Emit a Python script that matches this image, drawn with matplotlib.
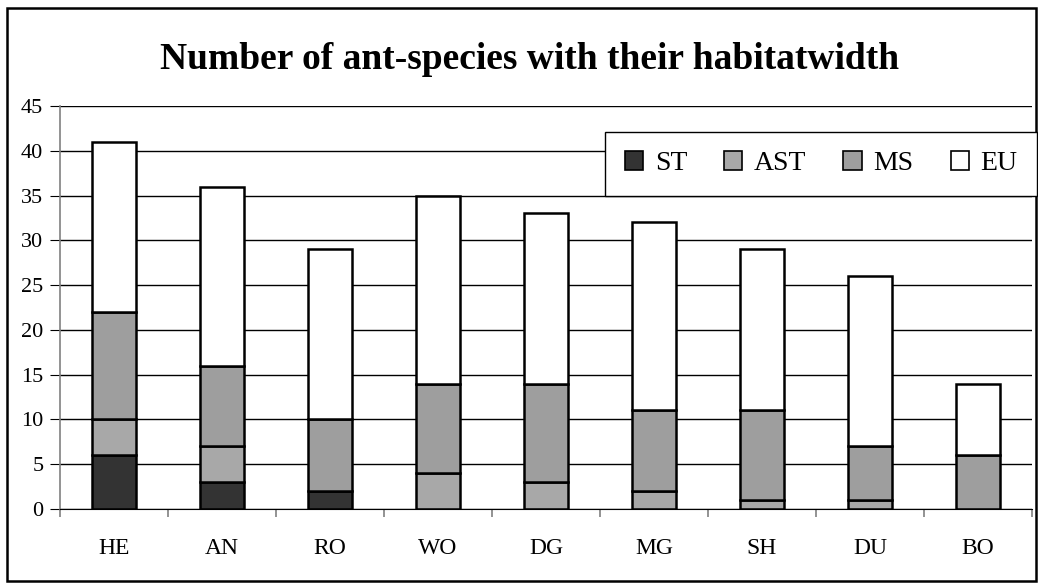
import numpy as np
import matplotlib.pyplot as plt
from matplotlib.patches import Rectangle

# data
sites = ['HE', 'AN', 'RO', 'WO', 'DG', 'MG', 'SH', 'DU', 'BO']
st  = [6, 3, 2, 0, 0, 0, 0, 0, 0]
ast = [4, 4, 0, 4, 3, 2, 1, 1, 0]
ms  = [12, 9, 8, 10, 11, 9, 10, 6, 6]
eu  = [19, 20, 19, 21, 19, 21, 18, 19, 8]

plt.rcParams['font.family'] = ['Liberation Serif', 'DejaVu Serif']

W, H = 1038, 583
fig = plt.figure(figsize=(W / 100, H / 100), dpi=100)
# axes box in pixels: x 60..1032, y 106..509
ax = fig.add_axes([60 / W, 1 - 509 / H, 972 / W, 403 / H])

x = np.arange(len(sites))
w = 0.41
bottom = np.zeros(len(sites))
series = [(st, '#333333', 'ST'), (ast, '#a8a8a8', 'AST'),
          (ms, '#9e9e9e', 'MS'), (eu, 'white', 'EU')]
for vals, col, lab in series:
    ax.bar(x, vals, w, bottom=bottom, color=col, edgecolor='black',
           linewidth=1.8, label=lab, zorder=3)
    bottom += np.array(vals)

ax.set_xlim(-0.5, len(sites) - 0.5)
ax.set_ylim(0, 45)
ax.set_yticks(range(0, 50, 5))
ax.yaxis.grid(True, color='black', linewidth=1, zorder=0)
ax.set_xticks(x)
ax.set_xticklabels(sites)
ax.set_xticks(np.arange(-0.5, len(sites)), minor=True)
ax.tick_params(axis='x', which='major', length=0, pad=21, labelsize=17)
ax.tick_params(axis='x', which='minor', length=6, width=1.2, direction='out', color='#808080')
ax.tick_params(axis='y', length=7, direction='out', labelsize=16, pad=5, color='black')

for s in ['top', 'right']:
    ax.spines[s].set_visible(False)
ax.spines['left'].set_color('#808080')
ax.spines['left'].set_linewidth(1.2)
ax.spines['bottom'].set_color('black')
ax.spines['bottom'].set_zorder(4)

fig.text(530 / W, 1 - 69 / H, 'Number of ant-species with their habitatwidth',
         fontsize=27, fontweight='bold', ha='center', va='baseline')

leg = fig.legend(ncol=4, loc='upper right', bbox_to_anchor=(1037 / W, 1 - 132 / H),
                 bbox_transform=fig.transFigure, borderaxespad=0,
                 fontsize=20, frameon=True, fancybox=False, handlelength=0.65,
                 handleheight=0.65, handletextpad=0.43, columnspacing=1.33,
                 borderpad=0.7)
leg.get_frame().set_edgecolor('black')
leg.get_frame().set_linewidth(1)
leg.get_frame().set_alpha(1)
for h in leg.legend_handles:
    h.set_linewidth(1.2)

fig.patches.append(Rectangle((7 / W, 2 / H), 1029 / W, 573 / H, transform=fig.transFigure,
                             fill=False, edgecolor='black', linewidth=1.8))

fig.savefig('out.png', dpi=100)
